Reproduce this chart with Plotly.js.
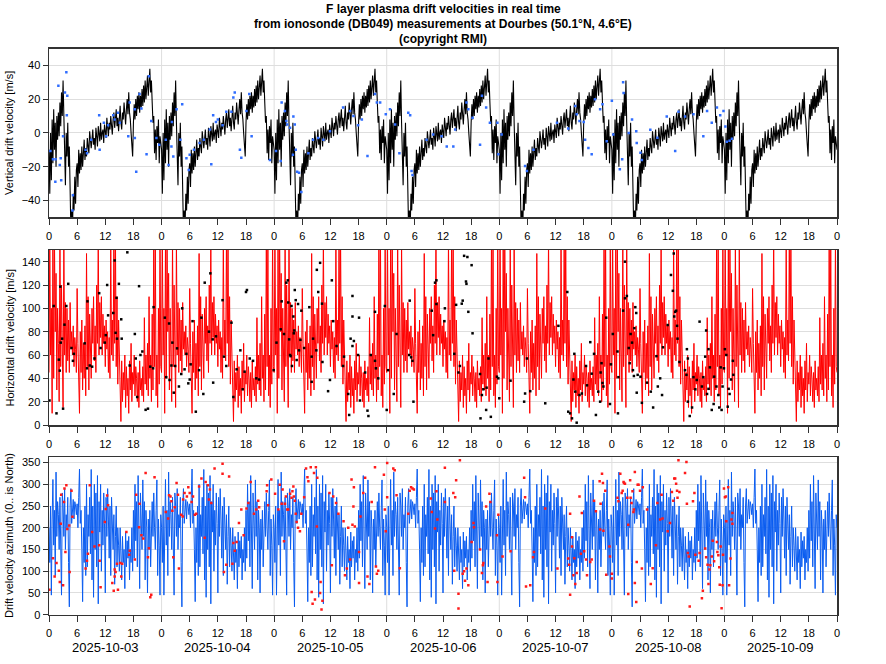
<!DOCTYPE html>
<html><head><meta charset="utf-8">
<script src="https://cdn.plot.ly/plotly-3.0.1.min.js"></script>
<style>html,body{margin:0;padding:0;background:#fff}#chart{width:886px;height:664px}</style>
</head><body><div id="chart"></div>
<script>
const FONT = '"Liberation Sans", Arial, sans-serif';

// title lines
const titleLines = ['F layer plasma drift velocities in real time',
  'from ionosonde (DB049) measurements at Dourbes (50.1°N, 4.6°E)',
  '(copyright RMI)'];
// date labels under the bottom panel (one per day, centred at noon)
const dateLabels = ['2025-10-03','2025-10-04','2025-10-05','2025-10-06','2025-10-07','2025-10-08','2025-10-09'];

// Daily model profiles, 10-minute steps (6 values per hour, 24 hours) - repeats every day
const vertProfile = [
 -10,-36,0,-28,8,-18,    14,-10,6,-20,10,-4,    12,-2,18,4,24,10,     31,6,-8,-31,0,-14,
 6,-20,-8,-52,-58,-46,   -58,-36,-46,-26,-42,-22, -18,-32,-10,-24,-12,-22, -8,-20,-12,-4,-16,-9,
 -14,-3,-8,-12,1,-6,     -9,-4,2,-7,-3,-10,     3,-2,-8,4,-1,-5,      6,-4,0,2,-6,5,
 1,-3,9,3,-2,6,          2,10,4,-1,8,12,        3,7,14,4,9,1,         10,16,6,2,12,8,
 18,9,5,14,20,11,        24,12,8,0,-10,-14,     6,17,8,20,10,22,      14,24,12,22,15,26,
 16,28,18,31,20,27,      34,22,32,38,24,31,     18,6,10,-12,2,-16,    4,-6,8,-18,-2,-8
];
const horizProfile = [
 45,160,60,100,10,160,   40,160,80,130,30,100,  70,20,160,50,120,35,   15,160,60,105,45,100,
 55,90,45,105,65,80,     60,85,50,75,65,45,     117,70,40,10,80,45,    90,30,70,40,85,25,
 147,50,110,30,95,60,    40,100,70,110,55,85,   45,120,70,160,60,105,  75,110,60,95,70,85,
 50,90,65,80,45,75,      40,160,60,90,55,160,   70,160,50,110,35,90,   60,35,3,55,20,45,
 30,60,15,50,25,40,      10,55,30,70,20,45,     35,60,25,50,40,20,     45,15,55,30,40,25,
 50,20,92,35,60,30,      70,25,110,40,60,20,    95,30,160,50,160,25,   60,15,100,35,160,50
];
const azimProfile = [
 200,120,250,45,220,311, 160,240,90,328,180,260, 230,150,270,95,45,280, 250,180,290,150,230,200,
 270,120,18,250,290,210, 245,265,220,260,250,230, 255,200,270,335,210,240, 150,30,200,120,250,90,
 300,110,230,180,270,140, 334,80,250,40,300,150, 280,110,320,25,260,190, 300,100,240,160,280,210,
 50,270,180,290,220,130, 250,90,270,200,150,230, 70,180,250,110,200,160, 100,200,140,80,180,120,
 150,60,190,110,170,130, 180,80,150,120,200,100, 240,130,300,170,260,110, 320,200,60,280,230,150,
 310,180,260,80,240,200, 50,220,150,240,110,190, 260,180,280,200,150,240, 310,90,220,160,45,230
];

// Measurements: [hours since 2025-10-03 00:00, value]
const vertDots = [
 [0.3,-10.7],[0.85,-15.6],[1.4,-15.6],[1.35,-29],[2,28],[2.3,-19],[2.5,-15],[2.6,-28],[3,-2],[3.4,24],[3.7,36],[3.9,22],[3.8,10.5],[5.1,-37],[5,-46],
 [7.8,-10],[8.1,-12],[9,-4],[10.7,10.5],[10.8,-10],[11.7,6],[12.2,-2],[12.6,4.5],[13.7,10.5],[14,8],[14.7,12],[15.1,6],[16.9,-2],[17.2,18],[18.3,14],
 [18.6,-23],[18.3,-3],[19.3,23],[19.7,14.5],[20.8,-12.7],[21.3,33.5],[21.8,7],[22.9,-3],[23.5,-7],
 [24.9,-4],[25.5,-19],[26.1,-8],[26.2,6.5],[26.5,-14],[27.2,14],[28,-4],[28.4,17],[29.3,-15],[29.8,-22],[30,-13],[30.9,-10],[32.1,-6],[33,-4],[34.3,2],
 [34.6,-18.6],[35,10.5],[35.6,6.5],[36,8],[37,4.5],[37.8,12.5],[38.9,12.5],[39.3,21],[39.6,24],[40.7,-10],[41,-14.7],[42.1,13],[42.7,23],[43.2,-2],[47.1,-16],[48.4,-10.7],
 [49.4,-16.6],[49.6,18],[50.3,13],[50.6,7],[50.8,5],[51.4,3],[52,-13],[52.1,9.7],[52.4,5],[52.6,-10],[52.9,-23],[53.3,-23.6],[53.8,-35],[55.3,-12],[56.3,-4],
 [57.4,-3],[58.5,-4],[59.9,1],[62.7,15],[64.2,13],[64.9,10],[65.9,4.5],[66.7,8],[67.9,-13.7],[69.5,23],[69.9,18],[70.6,18],[71.8,11],
 [72.7,14],[73.8,5],[74.7,-12],[76.6,12],[77,10.5],[77.3,-22.6],[77.5,-25],[80.5,-4],[81.9,-1],[83.7,-2],[84.8,-8],[86.2,-8],[86.6,2],[89,18],[89.4,14],
 [90.3,9],[91.9,-7],[92.3,22],[93.2,15],[94,6],[95.6,6],[95.8,-12.7],
 [96.5,-1],[101.5,-19.6],[101.9,-22.6],[103.3,-10],[108.3,6],[110.7,2.6],[112.2,16],[112.5,11],[113.1,7],[114,6.5],[114.3,-4],[115,-9],[115.7,-12.7],
 [116.4,20],[117.5,14],[118,17],[118.9,-5],
 [120,19],[120.3,-1],[121.7,-21.6],[122.2,-15.6],[122.4,30],[122.5,23.6],[123.6,0],[124.3,8],[125.2,1],[125.3,-6],[126.1,-11.7],[126.4,-16],[128.2,1.8],
 [129.7,-2.8],[131.7,9.7],[133.5,-10.7],[134.2,12.5],[135.6,9.7],[137.4,11],[139.5,-2],[140.3,13],[141.3,6],[142.4,15],[143.1,10.5],[143.8,13],
 [144.2,3.8],[144.5,-5.3],[145.1,-4.7],[145.6,-3.4]
];
const horizDots = [
 [0.1,21],[1,102],[1.6,10],[2.1,56],[2.3,46.6],[2.4,118.6],[2.5,70.6],[2.8,74],[3,14],[3.3,86],[3.7,102],[4.1,121],[4.8,66],[5.1,55],[5.3,61],[7.6,70],
 [8.1,48.6],[8.2,106],[8.7,51],[9.2,50],[9.7,57],[10.7,113],[11,66],[11.9,70.6],[12.1,77],[12.4,120],[12.6,94],[13.7,96],[14,141],[14.2,79],[14.4,109],
 [14.5,74],[14.9,121],[15.4,90.6],[15.5,74],[16.7,148],[17.2,51],[18.3,78],[18.5,57],[18.8,24],[19.2,119],[19.5,60],[19.9,63],[20.6,13],[21.1,14],[21.6,50],
 [22.3,101],[22.2,48.6],
 [24.7,92],[25,41],[25.6,87],[25.7,38.6],[26.1,51],[26.3,70.6],[26.6,27.7],[26.9,50.6],[27.3,65.7],[27.7,33],[28.2,43.7],[28.4,100],[28.9,47.7],[29.3,61],
 [29.7,35.7],[30,39],[30.2,52],[30.6,89],[31.3,11.4],[32,47],[32.5,92],[32.9,26.6],[33.2,122],[34.1,80],[34.4,130],[34.9,73.4],[35,36.3],[35.6,76],[37,107],
 [37.3,58.6],[37.8,50.6],[38.9,87.7],[39.3,24],[40,47.7],[40.8,64],[41.3,30.6],[41.7,45.7],[42,114],[42.2,115.7],[42.8,57],[43.5,55],[44.2,40],[44.8,39],[47.9,47],
 [48.5,70.6],[49.4,82],[49.6,106],[50.1,78],[50.6,122],[50.9,124],[51,105],[51.2,73.4],[51.4,60],[51.5,59],[51.7,102],[51.8,50.6],[52.1,93],[52.2,78.6],
 [52.3,81],[52.4,115.7],[52.6,107],[52.8,55.7],[53.1,103.7],[53.3,64],[53.6,73],[53.8,98],[54.4,66],[55.5,101],[56,58.6],[56,37],[56.3,74],[57,64],[57.1,133],
 [57.4,114],[57.8,139],[58.2,104],[58.3,54],[59.5,29],[59.9,38.6],[60.3,124],[60.6,89],[61.3,67.7],[62.7,50.6],[62.9,58.6],[63.8,26.6],[64,8.6],[64.3,74],
 [64.7,110.6],[64.7,93],[64.7,67.7],[65,72],[65.9,60],[66.1,92],[66.3,21],[67.4,45],[67.9,12.3],[68.1,7.7],[68.6,60],[69.5,97],[69.5,55],[69.7,48.6],[70.2,40],[71.6,102],
 [72,12.9],[72.3,47],[73.5,26.6],[74.1,78],[76.8,60],[76.9,106.6],[77.2,58],[77.5,55],[77.7,20],[81.6,98],[81.9,77],[82.3,122],[82.6,124],[82.6,103.7],[84.3,89],
 [84.4,100],[86.4,61],[86.8,103],[87.3,45],[87.6,50.6],[88,104],[88.2,106.6],[88.5,145],[88.9,123],[89,121],[89.2,144],[89.4,97],[90.1,137],[90.3,78.6],
 [91.9,43.7],[92,5.7],[92.3,25.7],[92.6,30.6],[93.2,12.9],[93.3,32],[93.7,57],[94.2,7],[95.5,41.4],[95.8,40],
 [96,22.9],[98.4,38],[101.3,20],[101.5,27],[101.9,57],[102.6,29],[105.8,18.6],[108.6,85],[110.5,114],[110.7,11.4],[111.1,10],[111.5,5.7],[111.8,39],[112,61],
 [112.2,28.6],[112.5,2],[113.1,25.7],[113.6,27],[114.5,50.6],[114.7,34],[115.4,71],[115.7,44],[116.2,61],[116.6,8.6],[117.1,28.6],[117.5,20],[117.6,45],
 [117.8,53],[118,36],[118.2,33],[118.8,92],[119.6,18],[119.8,52],
 [120.2,78],[121.2,63],[121.3,10],[121.4,41],[122.4,98],[122.8,140],[122.8,108.6],[123.2,110.6],[123.6,66],[123.8,53],[124,78],[124.3,70.6],[124.5,47],
 [124.7,42],[124.8,83],[125,101],[125.2,96],[125.3,27.7],[125.5,43],[126.1,41.4],[126.4,19],[127.5,36.3],[128.3,28.6],[128.8,15],[129.5,59],[129.8,33],
 [130.3,40],[130.7,25.7],[130.9,66.6],[131.9,85.7],[132.6,128.6],[133,115],[133.2,147],[133.3,93],[133.5,97],[133.7,98],[133.9,85],[134,74],[134.4,54],
 [135.6,47],[135.9,43],[136,65],[136.2,57],[136.2,20],[136.6,7.7],[137.1,15],[137.4,41],[137.8,30.6],[138.1,38.6],[138.7,88.6],[139.2,33],[139.5,41],
 [139.9,58.6],[140.1,81],[140.3,26.6],[140.6,31],[140.6,65],[140.9,49.4],[141.3,12.9],[141.7,18],[141.8,41.4],[142.3,33],[142.7,25.7],[142.9,15],[143.2,49.4],
 [143.4,12.9],[143.6,33],[143.9,48.6],
 [144.1,65],[144.4,60],[144.7,15.7],[144.9,31],[145.1,26.6],[145.4,39],[145.8,55],[145.9,43]
];
const azimDots = [
 [0.1,57.5],[0.85,130],[1.2,88],[1.6,119],[2.1,101],[2.3,75],[2.5,209],[2.6,276],[3,67.5],[3.2,259],[3.3,290],[3.5,144],[3.7,298],[3.9,197],[4.3,205],
 [4.4,98],[4.8,285],[5,225],[7.8,106],[8.1,124],[8.3,140],[8.7,298],[9.2,190],[9.7,157],[10.7,160],[10.8,124],[11,63],[11.9,213],[12.1,243],[12.4,274],
 [12.6,252],[13.5,73],[13.8,55],[14,88],[14,104],[14.2,98],[14.5,117],[14.7,57.5],[15.2,119],[15.4,88],[15.6,117],[16.5,190],[17.2,147],[17.1,138],
 [18.3,127],[18.6,276],[19.2,201],[19.3,255],[19.7,183],[20.1,175],[20.6,326],[21.1,132],[21.3,153],[21.6,40],[21.8,46],[22.5,316],
 [24.9,236],[25.4,221],[25.6,275],[25.9,272],[26.1,261],[26.3,239],[26.5,132],[26.8,247],[27.2,303],[27.5,276],[27.7,106],[28.2,230],[28.5,226],[28.6,265],
 [28.9,280],[29.4,272],[29.7,293],[30,280],[30.4,259],[30.7,272],[31.1,230],[31.4,232],[32,295],[32.5,313],[33.2,177],[33.4,305],[33.9,298],[34.1,265],
 [34.3,288],[34.6,257],[35.3,336],[37,347],[37,324],[37.3,98],[37.8,115],[38.4,318],[39.1,117],[39.3,165],[39.6,147],[40,167],[40.5,211],[41,242],[41.5,183],
 [42.1,244],[42.5,257],[43,305],[43.7,232],[44.2,242],[44.6,262],[44.8,247],[46.4,284],[46.5,298],[46.7,252],[47.4,311],
 [48.2,278],[48.9,242],[49.2,299],[49.6,255],[49.8,288],[50.1,169],[50.3,255],[50.5,272],[50.8,242],[51,242],[51.4,278],[51.7,269],[51.9,284],[52.1,295],
 [52.2,272],[52.4,262],[52.6,232],[52.8,213],[53.1,200],[53.5,192],[53.8,232],[54.4,270],[54.8,336],[55.1,316],[55.3,307],[55.8,339],[56,52],[56.2,25],
 [56.5,326],[56.7,35],[56.9,339],[57.1,203],[57.2,315],[57.8,50],[57.9,75],[58.1,12],[58.3,32],[59.8,280],[60.3,114],[60.6,272],[61.2,257],[61.7,232],
 [62.8,215],[63.1,90.5],[63.5,106],[63.8,200],[64.2,127],[64.5,311],[64.7,207],[64.9,249],[65,293],[65.2,203],[66.1,144],[66.1,73],[66.4,226],[67,280],
 [67.4,315],[67.9,88],[68.3,70.6],[68.8,259],[69.5,339],[69.7,111],[69.9,94],[70.2,101],[71.4,322],[71.6,242],[71.8,192],
 [72.1,349],[72.1,270],[73.4,336],[73.7,332],[74.1,275],[74.8,107],[76.6,232],[76.9,285],[77.2,293],[77.5,290],[77.8,288],[81.4,267],[81.6,236],[82.3,198],
 [82.6,284],[82.8,219],[84.4,259],[84.4,338],[86.2,280],[86.4,101],[86.6,270],[86.8,309],[87.3,48],[87.3,14],[87.6,355],[88.2,94],[88.5,100],[88.7,78],
 [89,106],[89.4,67.5],[90.1,167],[90.5,211],[90.6,201],[91.9,150],[92.3,96],[92.5,114],[92.6,119],[93.2,249],[93.5,75],[93.9,278],[94.1,259],[95.5,183],
 [95.6,75],[95.8,230],
 [96.7,134],[98.4,146],[101.3,315],[101.5,270],[101.7,65],[102.6,67.5],[103.2,132],[103.4,144],[105.8,244],[108.4,106],[110.7,129],[110.9,115],[111.1,46],
 [111.1,232],[111.5,178],[111.5,157],[111.8,90.5],[112,130],[112.2,70.6],[112.5,96],[113.1,272],[113.4,140],[113.6,234],[114.1,146],[114.5,127],[114.7,90.5],
 [115.4,121],[115.7,127],[116.2,262],[116.6,238],[117.4,307],[117.5,196],[117.6,255],[117.9,324],[118.1,303],[118.2,193],[118.6,285],[118.8,92],[119.5,157],
 [119.6,134],
 [120,94],[120,83],[121.2,269],[121.4,261],[121.8,324],[122.1,280],[122.3,285],[122.5,305],[122.6,303],[122.8,301],[123.3,269],[123.5,207],[123.5,47.6],
 [123.9,309],[124,269],[124.2,257],[124.4,284],[124.6,236],[124.7,242],[124.9,73],[124.9,328],[125.2,29],[125.3,121],[125.5,299],[125.7,299],[126,285],
 [126.4,106],[126.6,293],[127.5,242],[128.3,70.6],[128.7,107],[129.4,160],[129.7,257],[130.3,219],[130.6,276],[130.8,221],[131.9,192],[132.4,211],[132.8,282],
 [133.1,262],[133.3,313],[133.5,313],[133.7,301],[133.9,285],[134,269],[134.2,355],[134.4,282],[135.6,326],[135.9,351],[136,255],[136.2,142],[136.4,134],
 [136.6,19],[137.3,261],[137.6,280],[137.8,138],[138.5,124],[138.7,142],[139.2,38],[139.4,55],[139.9,152],[140.1,132],[140.4,115],[140.6,70.6],[140.8,104],
 [141,114],[141.3,134],[141.5,170],[141.8,123],[142.4,167],[142.5,144],[142.7,137],[142.9,109],[143,69],[143.2,157],[143.4,15],[143.6,67.5],[143.7,138],
 [143.9,290],
 [144.1,270],[144.3,272],[144.4,215],[144.8,293],[145,67.5],[145.3,129],[145.5,219],[145.7,209],[145.7,234]
];

const NDAYS = dateLabels.length;
function tile(profile) {
  const x = [], y = [];
  const per = profile.length / 24;
  for (let d = 0; d < NDAYS; d++) {
    for (let i = 0; i < profile.length; i++) { x.push(d * 24 + i / per); y.push(profile[i]); }
  }
  x.push(NDAYS * 24); y.push(profile[0]);
  return {x, y};
}
const col = (arr, k) => arr.map(p => p[k]);

const vLine = tile(vertProfile), hLine = tile(horizProfile), aLine = tile(azimProfile);

const traces = [
  {x: vLine.x, y: vLine.y, type: 'scatter', mode: 'lines', line: {color: '#000000', width: 1.1}, xaxis: 'x', yaxis: 'y', hoverinfo: 'skip'},
  {x: col(vertDots,0), y: col(vertDots,1), type: 'scatter', mode: 'markers', marker: {color: '#2f6dff', size: 2.5, symbol: 'square'}, xaxis: 'x', yaxis: 'y'},
  {x: hLine.x, y: hLine.y, type: 'scatter', mode: 'lines', line: {color: '#ff0000', width: 1}, xaxis: 'x2', yaxis: 'y2', hoverinfo: 'skip'},
  {x: col(horizDots,0), y: col(horizDots,1), type: 'scatter', mode: 'markers', marker: {color: '#000000', size: 2.5, symbol: 'square'}, xaxis: 'x2', yaxis: 'y2'},
  {x: aLine.x, y: aLine.y, type: 'scatter', mode: 'lines', line: {color: '#0a5cf0', width: 1}, xaxis: 'x3', yaxis: 'y3', hoverinfo: 'skip'},
  {x: col(azimDots,0), y: col(azimDots,1), type: 'scatter', mode: 'markers', marker: {color: '#ff1a1a', size: 2.5, symbol: 'square'}, xaxis: 'x3', yaxis: 'y3'}
];

const H = 664;
const py = p => 1 - p / H;
const tickvals = [], ticktext = [];
for (let h = 0; h <= NDAYS * 24; h += 6) { tickvals.push(h); ticktext.push(String(h % 24)); }

const tickFont = {family: FONT, size: 11, color: '#000'};
function xax(anchor) {
  return {range: [0, NDAYS * 24], tickvals, ticktext, ticks: 'outside', ticklen: 6, tickwidth: 1, tickcolor: '#333',
    ticklabelstandoff: 2, showline: true, mirror: true, linecolor: '#333', linewidth: 1.5, showgrid: false,
    zeroline: false, tickfont: tickFont, anchor, fixedrange: true};
}
function yax(anchor, domain, range, tv) {
  return {domain, range, tickvals: tv, ticks: 'outside', ticklen: 5, tickcolor: '#333', showline: true, mirror: true,
    linecolor: '#333', linewidth: 1.5, showgrid: true, gridcolor: '#dedede', gridwidth: 1, zeroline: false,
    tickfont: tickFont, anchor, fixedrange: true};
}

const shapes = [];
['x', 'x2', 'x3'].forEach((xr, k) => {
  const yr = ['y', 'y2', 'y3'][k];
  for (let d = 1; d < NDAYS; d++) {
    shapes.push({type: 'line', xref: xr, yref: yr + ' domain', x0: d * 24, x1: d * 24, y0: 0, y1: 1,
      line: {color: '#dedede', width: 1}, layer: 'below'});
  }
});

const annotations = [];
titleLines.forEach((t, i) => {
  annotations.push({text: '<b>' + t + '</b>', xref: 'paper', yref: 'paper', x: 0.5, y: py(9 + 15 * i), xanchor: 'center', yanchor: 'middle',
    showarrow: false, font: {family: FONT, size: 12, color: '#000'}});
});
dateLabels.forEach((lab, d) => {
  annotations.push({text: lab, xref: 'x3', yref: 'paper', x: d * 24 + 12, y: py(647), xanchor: 'center', yanchor: 'middle',
    showarrow: false, font: {family: FONT, size: 13, color: '#000'}});
});
const yTitles = [
  ['Vertical drift velocity [m/s]', (48.5 + 217.3) / 2],
  ['Horizontal drift velocity [m/s]', (250 + 425) / 2],
  ['Drift velocity azimuth (0.. is North)', (457.3 + 614.7) / 2]
];
yTitles.forEach(([t, yc]) => {
  annotations.push({text: t, xref: 'paper', yref: 'paper', x: (9 - 49) / 788, y: py(yc), xanchor: 'center', yanchor: 'middle',
    textangle: -90, showarrow: false, font: {family: FONT, size: 11, color: '#000'}});
});

const layout = {
  width: 886, height: 664,
  margin: {l: 49, r: 49, t: 0, b: 0},
  paper_bgcolor: '#fff', plot_bgcolor: '#fff',
  showlegend: false,
  xaxis: xax('y'), xaxis2: xax('y2'), xaxis3: xax('y3'),
  yaxis: yax('x', [py(217.3), py(48.5)], [-50, 50], [-40, -20, 0, 20, 40]),
  yaxis2: yax('x2', [py(425), py(250)], [0, 150], [0, 20, 40, 60, 80, 100, 120, 140]),
  yaxis3: yax('x3', [py(614.7), py(457.3)], [0, 362], [0, 50, 100, 150, 200, 250, 300, 350]),
  shapes, annotations
};

Plotly.newPlot('chart', traces, layout, {staticPlot: true, displayModeBar: false});
</script>
</body></html>
